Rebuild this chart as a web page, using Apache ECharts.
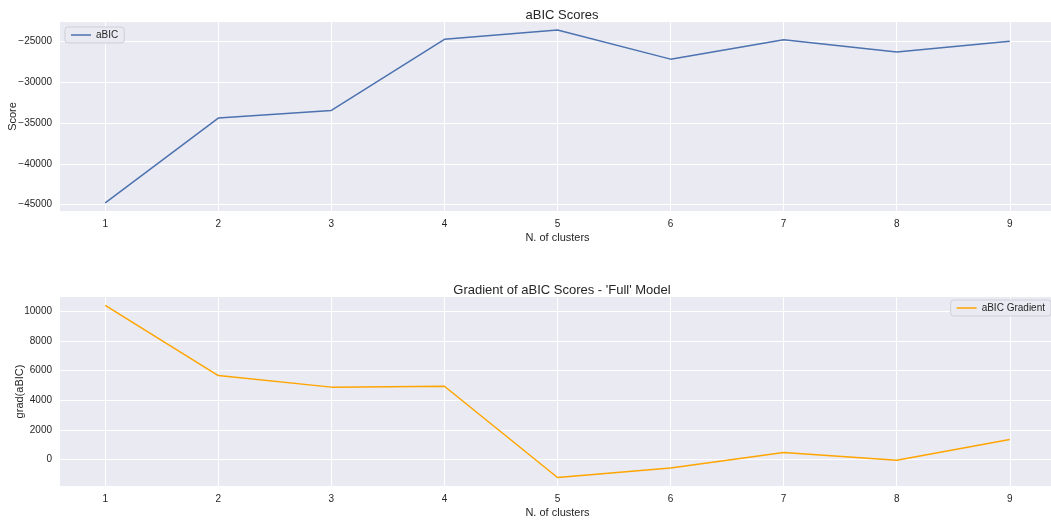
<!DOCTYPE html>
<html><head><meta charset="utf-8">
<script src="https://cdn.jsdelivr.net/npm/echarts@6/dist/echarts.min.js"></script>
<style>html,body{margin:0;padding:0;background:#fff}#c{width:1051px;height:520px}</style>
</head><body><div id="c"></div>
<script>
const clusters = [1, 2, 3, 4, 5, 6, 7, 8, 9];
const abicScores = [-44800, -34390, -33460, -24720, -23580, -27160, -24770, -26270, -24960];
const abicGradient = [10400, 5670, 4890, 4950, -1205, -560, 480, -50, 1360];
const xTicks = [1, 2, 3, 4, 5, 6, 7, 8, 9];
const yTicksTop = [-45000, -40000, -35000, -30000, -25000];
const yTicksBottom = [0, 2000, 4000, 6000, 8000, 10000];

const font = 'Liberation Sans, Arial, sans-serif';
const txt = '#262626';
const bg = '#eaeaf2';
const fmt = v => String(v).replace('-', '\u2212');

function xAxis(gi) {
  return {
    type: 'value', gridIndex: gi, min: 0.6, max: 9.4,
    name: 'N. of clusters', nameLocation: 'middle', nameGap: 21, nameMoveOverlap: false,
    nameTextStyle: {color: txt, fontSize: 11, fontFamily: font},
    axisLine: {show: false},
    axisTick: {show: false, customValues: xTicks},
    axisLabel: {customValues: xTicks, formatter: fmt, color: txt, fontSize: 10, fontFamily: font, margin: 8},
    splitLine: {show: true, lineStyle: {color: '#fff', width: 1}}
  };
}
function yAxis(gi, name, min, max, ticks, gap) {
  return {
    type: 'value', gridIndex: gi, min: min, max: max,
    name: name, nameLocation: 'middle', nameGap: gap, nameMoveOverlap: false,
    nameTextStyle: {color: txt, fontSize: 11, fontFamily: font},
    axisLine: {show: false},
    axisTick: {show: false, customValues: ticks},
    axisLabel: {customValues: ticks, formatter: fmt, color: txt, fontSize: 10, fontFamily: font, margin: 8},
    splitLine: {show: true, lineStyle: {color: '#fff', width: 1}}
  };
}

const chart = echarts.init(document.getElementById('c'), null, {renderer: 'canvas'});
chart.setOption({
  backgroundColor: '#fff',
  animation: false,
  title: [
    {text: 'aBIC Scores', left: 557, top: 4, textAlign: 'center',
     textStyle: {color: txt, fontSize: 13, fontWeight: 'normal', fontFamily: font}},
    {text: "Gradient of aBIC Scores - 'Full' Model", left: 557, top: 279, textAlign: 'center',
     textStyle: {color: txt, fontSize: 13, fontWeight: 'normal', fontFamily: font}}
  ],
  legend: [
    {data: ['aBIC'], left: 65, top: 27, orient: 'vertical',
     backgroundColor: bg, borderColor: '#cfcfd8', borderWidth: 1, borderRadius: 3,
     padding: [3, 6, 3, 6], itemWidth: 20, itemHeight: 10, itemGap: 6,
     icon: 'path://M0,0 L20,0 L20,1.5 L0,1.5 Z',
     textStyle: {color: txt, fontSize: 10, fontFamily: font}},
    {data: ['aBIC Gradient'], right: 0, top: 300, orient: 'vertical',
     backgroundColor: bg, borderColor: '#cfcfd8', borderWidth: 1, borderRadius: 3,
     padding: [3, 6, 3, 6], itemWidth: 20, itemHeight: 10, itemGap: 6,
     icon: 'path://M0,0 L20,0 L20,1.5 L0,1.5 Z',
     textStyle: {color: txt, fontSize: 10, fontFamily: font}}
  ],
  grid: [
    {left: 60, right: -4, top: 22, height: 189, show: true, backgroundColor: bg, borderWidth: 0,
     containLabel: false, outerBoundsMode: 'none'},
    {left: 60, right: -4, top: 297, height: 189, show: true, backgroundColor: bg, borderWidth: 0,
     containLabel: false, outerBoundsMode: 'none'}
  ],
  xAxis: [xAxis(0), xAxis(1)],
  yAxis: [
    yAxis(0, 'Score', -45800, -22600, yTicksTop, 42),
    yAxis(1, 'grad(aBIC)', -1780, 10970, yTicksBottom, 35)
  ],
  series: [
    {name: 'aBIC', type: 'line', xAxisIndex: 0, yAxisIndex: 0, showSymbol: false,
     color: '#4c72b0', lineStyle: {color: '#4c72b0', width: 1.5},
     data: clusters.map((c, i) => [c, abicScores[i]])},
    {name: 'aBIC Gradient', type: 'line', xAxisIndex: 1, yAxisIndex: 1, showSymbol: false,
     color: '#ffa500', lineStyle: {color: '#ffa500', width: 1.5},
     data: clusters.map((c, i) => [c, abicGradient[i]])}
  ]
});
</script></body></html>
